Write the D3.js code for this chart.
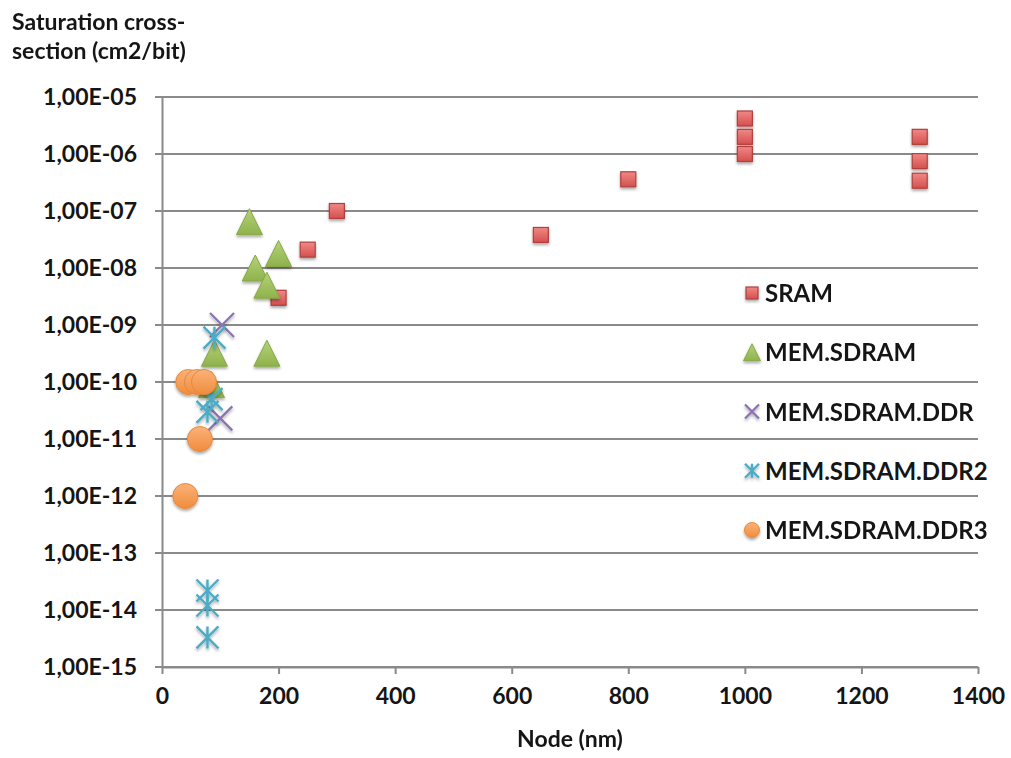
<!DOCTYPE html>
<html>
<head>
<meta charset="utf-8">
<script src="https://cdn.jsdelivr.net/npm/d3@7/dist/d3.min.js"></script>
<style>
  body { margin: 0; background: #fff; }
  text { font-family: Lato, 'Open Sans', sans-serif; font-weight: bold; fill: #151515; }
</style>
</head>
<body>
<div id="chart"></div>
<script>
const width = 1011;
const height = 758;

// Data
const xTicks = [0, 200, 400, 600, 800, 1000, 1200, 1400];
const yTicks = [1e-5, 1e-6, 1e-7, 1e-8, 1e-9, 1e-10, 1e-11, 1e-12, 1e-13, 1e-14, 1e-15];
const yTickLabels = ['1,00E-05', '1,00E-06', '1,00E-07', '1,00E-08', '1,00E-09', '1,00E-10',
                     '1,00E-11', '1,00E-12', '1,00E-13', '1,00E-14', '1,00E-15'];

const sramNode  = [1000, 1000, 1000, 1300, 1300, 1300, 800, 650, 300, 250, 200];
const sramSigma = [4.2e-6, 2e-6, 1e-6, 2e-6, 7.5e-7, 3.4e-7, 3.6e-7, 3.8e-8, 1e-7, 2.1e-8, 3e-9];

const sdramNode  = [150, 200, 160, 180, 85, 90, 180];
const sdramSigma = [6.5e-8, 1.8e-8, 1e-8, 5e-9, 9e-11, 3.2e-10, 3.2e-10];

const ddrNode  = [103, 100];
const ddrSigma = [1e-9, 2.3e-11];

const ddr2Node  = [90, 85, 78, 78, 78, 78];
const ddr2Sigma = [6e-10, 5e-11, 3e-11, 2.2e-14, 1.2e-14, 3.3e-15];

const ddr3Node  = [45, 60, 72, 65, 40];
const ddr3Sigma = [1e-10, 1e-10, 1e-10, 1e-11, 1e-12];

const legendLabels = ['SRAM', 'MEM.SDRAM', 'MEM.SDRAM.DDR', 'MEM.SDRAM.DDR2', 'MEM.SDRAM.DDR3'];

const x0 = 162, x1 = 978, y0 = 667, y1 = 97;

const svg = d3.select('#chart')
  .append('svg')
  .attr('width', width)
  .attr('height', height)

const defs = svg.append('defs');

const shadow = defs.append('filter').attr('id', 'shadow')
  .attr('x', '-50%').attr('y', '-50%').attr('width', '200%').attr('height', '200%');
shadow.append('feGaussianBlur').attr('in', 'SourceAlpha').attr('stdDeviation', 1.6).attr('result', 'b');
shadow.append('feOffset').attr('in', 'b').attr('dy', 1.5).attr('result', 'o');
shadow.append('feComponentTransfer').attr('in', 'o').attr('result', 's')
  .append('feFuncA').attr('type', 'linear').attr('slope', 0.35);
const merge = shadow.append('feMerge');
merge.append('feMergeNode').attr('in', 's');
merge.append('feMergeNode').attr('in', 'SourceGraphic');

const addGrad = (id, top, bottom) => {
  const g = defs.append('linearGradient').attr('id', id)
    .attr('x1', 0).attr('y1', 0).attr('x2', 0).attr('y2', 1);
  g.append('stop').attr('offset', '0%').attr('stop-color', top);
  g.append('stop').attr('offset', '100%').attr('stop-color', bottom);
}
addGrad('gRed', '#f08886', '#d4504e');
addGrad('gGreen', '#b5d27a', '#8fb24c');
addGrad('gOrange', '#fbb27a', '#f08c3c');

const xScale = d3.scaleLinear().domain([0, 1400]).range([x0, x1]);
const yScale = d3.scaleLog().domain([1e-15, 1e-5]).range([y0, y1]);

// gridlines
svg.append('g')
  .selectAll('line')
  .data(yTicks)
  .enter()
  .append('line')
  .attr('x1', x0 - 7)
  .attr('x2', x1)
  .attr('y1', d => yScale(d))
  .attr('y2', d => yScale(d))
  .style('stroke', '#8a8a8a')
  .style('stroke-width', 2)

// axes
const xAxis = d3.axisBottom(xScale).tickValues(xTicks).tickSize(7).tickSizeOuter(0).tickPadding(14)
  .tickFormat(d3.format('d'));
const yAxis = d3.axisLeft(yScale).tickValues(yTicks).tickSize(7).tickSizeOuter(0).tickPadding(14)
  .tickFormat((d, i) => yTickLabels[i]);

const gx = svg.append('g')
  .attr('transform', 'translate(0, ' + y0 + ')')
  .call(xAxis)
gx.select('.domain').style('stroke', '#8a8a8a').style('stroke-width', 2)
gx.selectAll('.tick line').style('stroke', '#8a8a8a').style('stroke-width', 2)
gx.selectAll('.tick text').style('font-size', '23px').style('fill', '#151515')
  .style('font-family', 'Lato, sans-serif').style('font-weight', 'bold')

const gy = svg.append('g')
  .attr('transform', 'translate(' + x0 + ', 0)')
  .call(yAxis)
gy.select('.domain').style('stroke', '#8a8a8a').style('stroke-width', 2)
gy.selectAll('.tick line').remove()
gy.selectAll('.tick text').style('font-size', '23px').style('fill', '#151515')
  .style('font-family', 'Lato, sans-serif').style('font-weight', 'bold')
  .attr('x', -25)

// markers
const drawMarker = (g, type, size) => {
  const h = size / 2;
  if (type === 'square') {
    g.append('rect').attr('x', -h).attr('y', -h).attr('width', size).attr('height', size)
      .style('fill', 'url(#gRed)').style('stroke', '#b03f3d').style('stroke-width', 1.2);
  } else if (type === 'triangle') {
    g.append('path').attr('d', `M0,${-h}L${h},${h}L${-h},${h}Z`)
      .style('fill', 'url(#gGreen)').style('stroke', '#86a845').style('stroke-width', 1);
  } else if (type === 'x') {
    g.append('path').attr('d', `M${-h},${-h}L${h},${h}M${h},${-h}L${-h},${h}`)
      .style('stroke', '#8a73b0').style('stroke-width', 2.2).style('fill', 'none');
  } else if (type === 'star') {
    g.append('path').attr('d', `M${-h},${-h}L${h},${h}M${h},${-h}L${-h},${h}M0,${-h}L0,${h}`)
      .style('stroke', '#4bacc6').style('stroke-width', 2.4).style('fill', 'none');
  } else if (type === 'circle') {
    g.append('circle').attr('r', h)
      .style('fill', 'url(#gOrange)').style('stroke', '#e8883a').style('stroke-width', 1);
  }
}

const plotSeries = (xs, ys, type, size) => {
  const g = svg.append('g').attr('filter', 'url(#shadow)');
  xs.forEach((xv, i) => {
    const m = g.append('g').attr('transform', 'translate(' + xScale(xv) + ',' + yScale(ys[i]) + ')');
    drawMarker(m, type, size);
  })
}

plotSeries(sramNode, sramSigma, 'square', 15);
plotSeries(sdramNode, sdramSigma, 'triangle', 26);
plotSeries(ddrNode, ddrSigma, 'x', 24);
plotSeries(ddr2Node, ddr2Sigma, 'star', 22);
plotSeries(ddr3Node, ddr3Sigma, 'circle', 25);

// legend
const legendTypes = ['square', 'triangle', 'x', 'star', 'circle'];
const legendSizes = [12, 17, 14, 14, 15];
const legendY = d3.scalePoint().domain(legendLabels).range([293, 530]);

legendLabels.forEach((lab, i) => {
  const m = svg.append('g').attr('filter', 'url(#shadow)')
    .attr('transform', 'translate(752,' + legendY(lab) + ')');
  drawMarker(m, legendTypes[i], legendSizes[i]);
  svg.append('text')
    .text(lab)
    .attr('x', 765)
    .attr('y', legendY(lab) + 9)
    .style('font-size', '24px')
})

// titles
svg.append('text').text('Saturation cross-').attr('x', 12).attr('y', 30).style('font-size', '23px')
svg.append('text').text('section (cm2/bit)').attr('x', 12).attr('y', 59).style('font-size', '23px')

svg.append('text')
  .text('Node (nm)')
  .attr('x', 570)
  .attr('y', 747)
  .attr('text-anchor', 'middle')
  .style('font-size', '23px')
</script>
</body>
</html>
